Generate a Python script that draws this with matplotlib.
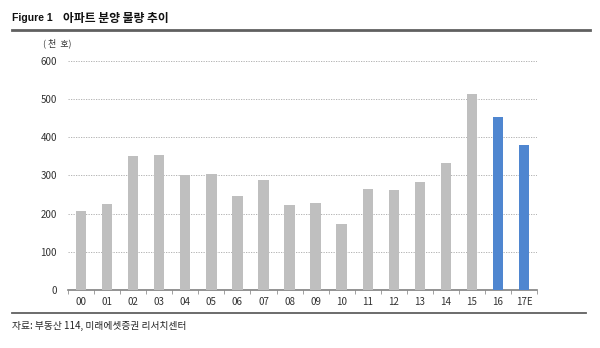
import matplotlib.pyplot as plt
import numpy as np

plt.rcParams['font.family'] = ['Noto Sans CJK KR', 'DejaVu Sans']

# 아파트 분양 물량 (천 호)
years = ['00', '01', '02', '03', '04', '05', '06', '07', '08',
         '09', '10', '11', '12', '13', '14', '15', '16', '17E']
supply = [206, 226, 352, 354, 302, 304, 247, 289, 223,
          228, 173, 264, 262, 283, 334, 514, 453, 379]
highlight = ['16', '17E']

gray = '#BFBFBF'
blue = '#4F86D0'

fig = plt.figure(figsize=(6, 3.48), dpi=100)
ax = fig.add_axes([0.1133, 0.1667, 0.782, 0.658])

x = np.arange(len(years))
colors = [blue if y in highlight else gray for y in years]
ax.bar(x, supply, width=0.4, color=colors, zorder=3)

ax.set_xlim(-0.5, len(years) - 0.5)
ax.set_ylim(0, 600)
ax.set_yticks(range(0, 601, 100))
ax.yaxis.grid(True, linestyle=(0, (1.5, 1.5)), color='#A8A8A8', linewidth=0.6, zorder=0)
ax.set_xticks(x)
ax.set_xticklabels(years)
ax.set_xticks(np.arange(-0.5, len(years), 1), minor=True)
ax.tick_params(axis='x', which='major', length=0, pad=5, labelsize=7, colors='#333333')
ax.tick_params(axis='x', which='minor', length=3, color='#909090', width=0.6)
ax.tick_params(axis='y', length=0, pad=8, labelsize=7, colors='#333333')

for s in ['top', 'right', 'left']:
    ax.spines[s].set_visible(False)
ax.spines['bottom'].set_color('#808080')
ax.spines['bottom'].set_linewidth(1.2)

# 제목, 단위, 출처
fig.text(0.02, 0.948, 'Figure 1', fontsize=7.5, fontweight='bold',
         family=['Liberation Sans'], va='center', color='#111111')
fig.text(0.105, 0.948, '아파트 분양 물량 추이', fontsize=8.5, fontweight='bold',
         va='center', color='#111111')
fig.add_artist(plt.Line2D([0.02, 0.983], [0.915, 0.915], color='#606060', linewidth=2))
fig.text(0.072, 0.876, '( 천  호)', fontsize=6.5, va='center', color='#333333')
fig.add_artist(plt.Line2D([0.02, 0.977], [0.1, 0.1], color='#606060', linewidth=1.3))
fig.text(0.02, 0.062, '자료: 부동산 114, 미래에셋증권 리서치센터', fontsize=7,
         va='center', color='#222222')

fig.savefig('out.png', dpi=100)
